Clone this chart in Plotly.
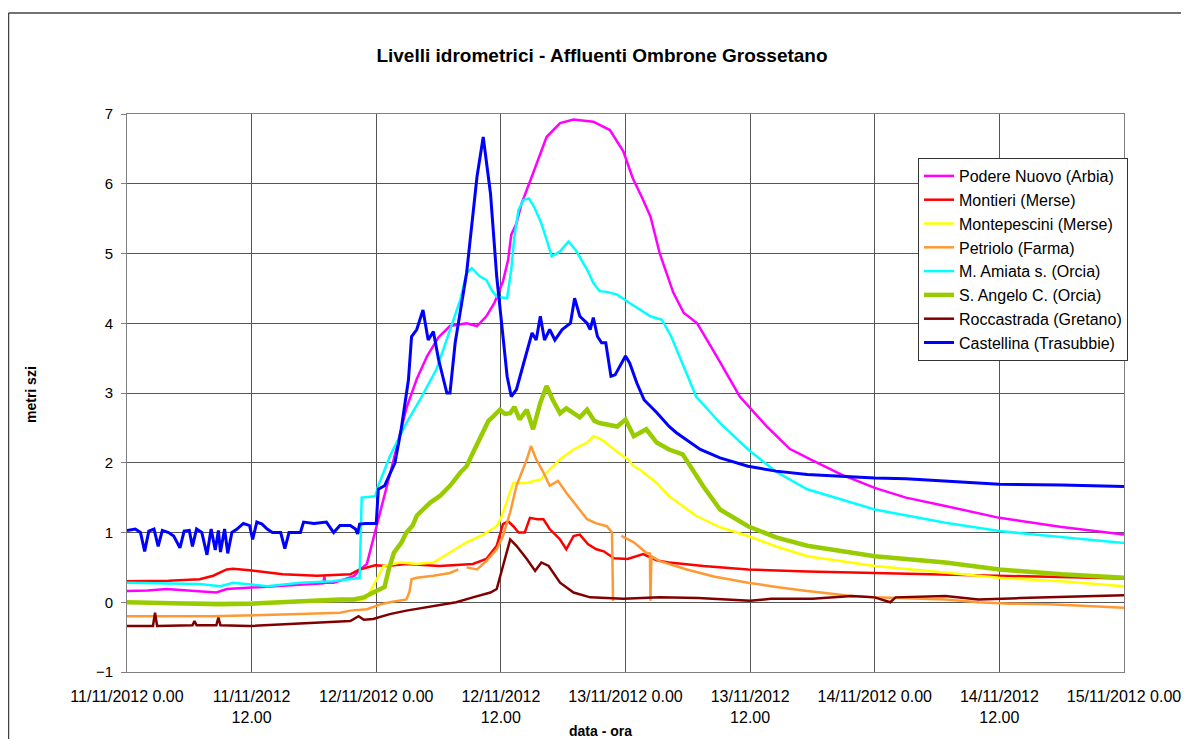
import pandas as pd
import plotly.graph_objects as go

BASE = pd.Timestamp("2012-11-11 00:00")

# ---- data (hours since 11/11/2012 0.00, level in metres) ----
podere_h = [0, 2, 3.8, 6, 8.6, 9.6, 11.8, 14, 16.7, 18.9, 19.0, 19.1, 19.9, 21.0, 21.8, 22.7, 23.1, 23.7,
            24.4, 25.6, 26.9, 27.9, 28.9, 30.0, 31.1, 32.7, 33.7, 34.6, 35.4, 36.2, 36.7, 37.0, 37.5, 38.0,
            39.1, 40.4, 41.7, 43.0, 44.9, 45.6, 46.5, 47.8, 48.7, 49.6, 50.4, 51.3, 52.6, 53.6, 54.9, 56.8,
            59.0, 61.6, 63.8, 65.9, 68.8, 72, 75, 78.8, 84, 90, 96]
podere_v = [0.16, 0.17, 0.19, 0.17, 0.14, 0.19, 0.21, 0.23, 0.26, 0.27, 0.37, 0.28, 0.28, 0.33, 0.37, 0.50, 0.55, 0.9,
            1.29, 2.0, 2.78, 3.2, 3.53, 3.8, 3.96, 4.0, 3.96, 4.1, 4.3, 4.6, 4.91, 5.27, 5.43, 5.72,
            6.15, 6.67, 6.87, 6.92, 6.89, 6.84, 6.77, 6.46, 6.08, 5.8, 5.53, 5.0, 4.44, 4.15, 4.0, 3.52,
            2.95, 2.52, 2.2, 2.04, 1.83, 1.64, 1.5, 1.38, 1.21, 1.08, 0.97]

montieri_h = [0, 4, 7, 8.3, 9.6, 10.2, 11.8, 13.5, 15, 18.3, 21.5, 22.4, 23.9, 25, 26.9, 30.1, 33.3, 34.6,
              35.6, 36.2, 36.7, 37.2, 37.7, 38.3, 38.8, 39.5, 40.1, 40.7, 41.7, 42.3, 43.0, 43.6, 44.4,
              45.2, 45.9, 46.9, 48.2, 49.7, 51.0, 52.2, 55.5, 59.8, 65.5, 72, 78.8, 84, 90, 96]
montieri_v = [0.3, 0.31, 0.33, 0.38, 0.47, 0.48, 0.46, 0.43, 0.4, 0.38, 0.4, 0.47, 0.53, 0.52, 0.55, 0.52, 0.55, 0.62,
              0.81, 1.12, 1.16, 1.09, 1.0, 1.0, 1.21, 1.19, 1.19, 1.05, 0.9, 0.76, 0.95, 0.97, 0.83,
              0.76, 0.73, 0.63, 0.62, 0.69, 0.6, 0.57, 0.52, 0.47, 0.44, 0.42, 0.4, 0.38, 0.36, 0.34]

montepescini_h = [0, 12, 22, 23.0, 23.7, 24.7, 26.3, 27.9, 29.5, 31.1, 32.7, 34.3, 35.6, 36.0, 36.6, 37.2,
                  38.5, 39.8, 40.4, 41.7, 43.0, 44.3, 44.9, 45.5, 45.9, 46.9, 48.2, 48.8, 49.4, 51.0, 52.2,
                  54.8, 57.0, 59.8, 62.5, 65.5, 72, 78.8, 84, 90, 96]
montepescini_v = [0.0, 0.0, 0.02, 0.05, 0.23, 0.52, 0.57, 0.55, 0.57, 0.71, 0.86, 0.97, 1.09, 1.2, 1.47, 1.71,
                  1.71, 1.76, 1.86, 2.05, 2.19, 2.29, 2.38, 2.35, 2.31, 2.19, 2.05, 1.95, 1.9, 1.71, 1.52,
                  1.24, 1.08, 0.95, 0.8, 0.66, 0.52, 0.42, 0.35, 0.3, 0.23]

petriolo_h = [0, 8, 16.7, 20.5, 21.5, 23.1, 24.4, 25.3, 26.9, 27.2, 27.4, 27.9, 29.5, 31.1, 31.9, 32.3, 32.7,
              33.7, 34.6, 35.6, 36.2, 36.9, 37.5, 38.5, 38.9, 39.4, 40.1, 40.7, 41.5, 42.3, 43.3, 44.3,
              45.2, 46.2, 46.7, 46.8, 47.2, 47.6, 48.8, 50.0, 50.35, 50.4, 50.5, 51.3, 53.9, 56.5, 59.8,
              62.5, 65.5, 69.8, 72, 78.8, 82, 85, 88.7, 92, 96]
petriolo_v = [-0.2, -0.2, -0.17, -0.15, -0.12, -0.1, -0.03, 0.0, 0.04, 0.15, 0.33, 0.35, 0.38, 0.42, 0.47, None, 0.5,
              0.47, 0.59, 0.76, 0.95, 1.29, 1.67, 2.05, 2.24, 2.05, 1.86, 1.67, 1.74, 1.57, 1.38, 1.19,
              1.13, 1.09, 1.0, 0.02, None, 0.95, 0.86, 0.71, 0.70, 0.02, 0.66, 0.59, 0.47, 0.37, 0.28,
              0.22, 0.16, 0.09, 0.07, 0.04, 0.0, -0.02, -0.03, -0.05, -0.08]

amiata_h = [0, 3, 7, 9, 10.2, 13.5, 16.7, 19.8, 22.4, 22.6, 23.9, 24.2, 25.3, 26.9, 28.2, 29.8, 31.1, 32.1,
            32.7, 33.2, 34.0, 34.6, 35.1, 35.6, 36.6, 37.0, 37.3, 37.7, 38.2, 38.7, 39.2, 39.9, 40.4, 40.9,
            41.7, 42.5, 43.2, 44.3, 44.9, 45.5, 46.2, 47.2, 48.4, 49.4, 50.4, 51.5, 52.4, 53.6, 54.8, 57.1,
            59.8, 62.5, 65.5, 72, 78.8, 84, 90, 96]
amiata_v = [0.28, 0.27, 0.26, 0.23, 0.28, 0.23, 0.28, 0.3, 0.35, 1.5, 1.52, 1.67, 2.09, 2.57, 2.9, 3.34, 3.91, 4.34,
            4.72, 4.79, 4.67, 4.62, 4.48, 4.38, 4.36, 4.77, 5.24, 5.63, 5.77, 5.79, 5.67, 5.43, 5.2, 4.96,
            5.03, 5.17, 5.05, 4.77, 4.58, 4.46, 4.45, 4.41, 4.29, 4.19, 4.1, 4.05, 3.81, 3.38, 2.95, 2.57,
            2.19, 1.87, 1.62, 1.33, 1.14, 1.02, 0.93, 0.85]

angelo_h = [0, 4, 8.8, 12, 15, 17.6, 18.6, 20.5, 21.8, 22.8, 23.7, 24.4, 24.8, 25.2, 25.7, 26.4, 26.9, 27.5,
            27.9, 28.5, 29.2, 30.1, 30.6, 31.1, 32.1, 32.7, 33.3, 34.3, 34.8, 35.3, 35.9, 36.4, 36.9, 37.3,
            37.8, 38.5, 39.1, 39.8, 40.4, 41.0, 41.7, 42.3, 43.0, 43.6, 44.3, 45.0, 45.5, 46.3, 47.2, 48.0,
            48.8, 50.0, 51.0, 52.2, 53.5, 55.5, 57.1, 59.8, 62.5, 65.5, 72, 78.8, 84, 90, 96]
angelo_v = [0.0, -0.01, -0.03, -0.02, 0.0, 0.02, 0.04, 0.04, 0.04, 0.07, 0.14, 0.19, 0.22, 0.47, 0.71, 0.85, 1.0, 1.1,
            1.24, 1.33, 1.43, 1.52, 1.6, 1.67, 1.86, 1.95, 2.14, 2.43, 2.6, 2.67, 2.76, 2.7, 2.71, 2.8,
            2.62, 2.76, 2.48, 2.86, 3.1, 2.9, 2.71, 2.78, 2.71, 2.65, 2.76, 2.6, 2.57, 2.55, 2.52, 2.62,
            2.38, 2.48, 2.29, 2.19, 2.12, 1.66, 1.33, 1.09, 0.93, 0.81, 0.66, 0.57, 0.47, 0.4, 0.35]

rocca_h = [0, 2.5, 2.7, 2.9, 6.3, 6.5, 6.7, 8.6, 8.8, 9.0, 11.8, 16.7, 19.9, 21.5, 22.3, 22.8, 23.7, 24.7,
           25.3, 26.9, 28.5, 30.1, 31.7, 33.3, 35.0, 35.6, 36.2, 36.9, 37.5, 38.5, 39.3, 39.9, 40.6, 41.7,
           43.0, 44.6, 47.8, 51.3, 55, 60, 62, 66, 69.8, 72, 73.5, 74, 78.8, 82, 86, 90, 96]
rocca_v = [-0.34, -0.34, -0.15, -0.34, -0.33, -0.27, -0.33, -0.33, -0.22, -0.33, -0.34, -0.31, -0.28, -0.27, -0.2, -0.25, -0.24, -0.2,
           -0.17, -0.12, -0.08, -0.05, 0.0, 0.07, 0.14, 0.19, 0.52, 0.9, 0.81, 0.62, 0.45, 0.57, 0.52, 0.28,
           0.14, 0.07, 0.05, 0.07, 0.06, 0.02, 0.05, 0.05, 0.09, 0.07, 0.0, 0.07, 0.09, 0.04, 0.06, 0.08, 0.1]

castellina_h = [0, 0.8, 1.3, 1.7, 2.1, 2.6, 3.0, 3.4, 4.0, 4.5, 5.1, 5.5, 6.0, 6.3, 6.7, 7.2, 7.7, 8.1, 8.5,
                8.8, 9.0, 9.4, 9.7, 10.1, 10.6, 11.2, 11.8, 12.1, 12.5, 13.0, 13.5, 14.0, 14.8, 15.2, 15.6,
                16.7, 17.0, 18.0, 19.2, 19.9, 20.5, 21.5, 22.0, 22.2, 22.4, 23.0, 24.0, 24.2, 24.8, 25.8,
                26.4, 27.1, 27.4, 27.9, 28.5, 29.0, 29.5, 30.0, 30.8, 31.1, 31.6, 32.7, 33.7, 34.3, 35.0,
                35.6, 36.1, 36.6, 37.0, 37.5, 38.2, 39.0, 39.4, 39.8, 40.2, 40.7, 41.2, 41.9, 42.7, 43.1,
                43.6, 44.3, 44.6, 44.9, 45.3, 45.7, 46.1, 46.6, 47.0, 48.0, 48.4, 49.1, 49.8, 51.0, 52.2,
                52.9, 55.2, 57.1, 59.8, 62.5, 65.5, 72, 75, 78.8, 81, 84, 90, 96]
castellina_v = [1.03, 1.05, 1.0, 0.73, 1.02, 1.05, 0.8, 1.03, 1.0, 0.95, 0.78, 1.02, 1.03, 0.8, 1.05, 1.0, 0.68, 1.05, 0.75,
                1.03, 0.72, 1.05, 0.7, 1.0, 1.05, 1.13, 1.1, 0.9, 1.15, 1.12, 1.05, 1.0, 1.0, 0.77, 1.0,
                1.0, 1.15, 1.13, 1.15, 1.0, 1.1, 1.1, 1.05, 0.98, 1.12, 1.13, 1.13, 1.62, 1.67, 2.0,
                2.48, 3.19, 3.81, 3.91, 4.19, 3.76, 3.88, 3.48, 3.0, 3.0, 3.72, 4.72, 6.1, 6.67, 5.86,
                4.67, 3.96, 3.24, 2.95, 3.05, 3.43, 3.86, 3.76, 4.1, 3.76, 3.91, 3.76, 3.91, 4.0, 4.36,
                4.1, 4.0, 3.91, 4.08, 3.81, 3.72, 3.72, 3.24, 3.26, 3.53, 3.43, 3.14, 2.9, 2.72, 2.52,
                2.43, 2.19, 2.07, 1.95, 1.88, 1.83, 1.78, 1.77, 1.74, 1.72, 1.69, 1.68, 1.66]

series = [
    ("Podere Nuovo (Arbia)", podere_h, podere_v, "#FF00FF", 2.5),
    ("Montieri (Merse)", montieri_h, montieri_v, "#FF0000", 2.5),
    ("Montepescini (Merse)", montepescini_h, montepescini_v, "#FFFF00", 2.5),
    ("Petriolo (Farma)", petriolo_h, petriolo_v, "#FF9933", 2.5),
    ("M. Amiata s. (Orcia)", amiata_h, amiata_v, "#00FFFF", 2.5),
    ("S. Angelo C. (Orcia)", angelo_h, angelo_v, "#99CC00", 4.5),
    ("Roccastrada (Gretano)", rocca_h, rocca_v, "#800000", 2.5),
    ("Castellina (Trasubbie)", castellina_h, castellina_v, "#0000FF", 3),
]

tick_hours = [0, 12, 24, 36, 48, 60, 72, 84, 96]
tick_text = ["11/11/2012 0.00", "11/11/2012<br>12.00", "12/11/2012 0.00", "12/11/2012<br>12.00",
             "13/11/2012 0.00", "13/11/2012<br>12.00", "14/11/2012 0.00", "14/11/2012<br>12.00",
             "15/11/2012 0.00"]

def to_time(hours):
    return [BASE + pd.Timedelta(hours=h) for h in hours]

FONT = "Liberation Sans, Arial, sans-serif"
GRID = "#555555"

# the page body adds an 8px offset; margins are fixed so the plot lands where the reference has it
W, H = 1181, 731
L, T, R, B = 119, 106, 65, 67
PW, PH = W - L - R, H - T - B

def px_x(fx):  # figure-pixel x -> paper
    return (fx - L) / PW

def px_y(fy):  # figure-pixel y -> paper
    return (H - B - fy) / PH

fig = go.Figure()
for i, (name, h, v, col, w) in enumerate(series):
    fig.add_trace(go.Scatter(x=to_time(h), y=v, mode="lines", name=name,
                             line=dict(color=col, width=w), legendgroup=f"g{i}"))

fig.update_layout(
    width=W, height=H, autosize=False,
    margin=dict(l=L, r=R, t=T, b=B, autoexpand=False),
    paper_bgcolor="white", plot_bgcolor="white",
    font=dict(family=FONT, color="#000000", size=15),
    showlegend=True,
    legend=dict(x=px_x(910), y=px_y(150), xanchor="left", yanchor="top",
                bgcolor="white", bordercolor="#333333", borderwidth=1,
                font=dict(size=16, family=FONT), tracegroupgap=0,
                itemwidth=30),
    title=dict(text="<b>Livelli idrometrici - Affluenti Ombrone Grossetano</b>",
               x=px_x(594), xref="paper", xanchor="center",
               y=1 - 47 / H, yref="container", yanchor="middle",
               font=dict(size=19, family=FONT)),
)

fig.update_xaxes(range=[BASE, BASE + pd.Timedelta(hours=96)],
                 tickvals=to_time(tick_hours), ticktext=tick_text,
                 tickangle=0, showgrid=True, gridcolor=GRID, gridwidth=1,
                 showline=True, linecolor="#808080", linewidth=1, mirror=True,
                 ticks="", tickfont=dict(size=16, family=FONT), zeroline=False,
                 ticklabelstandoff=10, automargin=False, ticklabeloverflow="allow")
fig.update_yaxes(range=[-1, 7], dtick=1, showgrid=True, gridcolor=GRID, gridwidth=1,
                 zeroline=True, zerolinecolor=GRID, zerolinewidth=1,
                 showline=True, linecolor="#808080", linewidth=1, mirror=True,
                 ticks="outside", ticklen=5, tickcolor="#808080",
                 tickfont=dict(size=15, family=FONT), ticklabelstandoff=5, automargin=False)

# axis titles
fig.add_annotation(text="<b>metri szi</b>", x=px_x(23), y=px_y(387), xref="paper", yref="paper",
                   textangle=-90, showarrow=False, xanchor="center", yanchor="middle",
                   font=dict(size=14, family=FONT))
fig.add_annotation(text="<b>data - ora</b>", x=px_x(592), y=px_y(723), xref="paper", yref="paper",
                   showarrow=False, xanchor="center", yanchor="middle",
                   font=dict(size=14, family=FONT))

# outer chart frame (top and left edges visible)
fig.add_shape(type="line", xref="paper", yref="paper", x0=px_x(0.5), x1=px_x(W + 20),
              y0=px_y(5), y1=px_y(5), line=dict(color="#444444", width=1.5))
fig.add_shape(type="line", xref="paper", yref="paper", x0=px_x(0.5), x1=px_x(0.5),
              y0=px_y(5), y1=px_y(H + 20), line=dict(color="#444444", width=1.5))

fig.write_html("out.html")
